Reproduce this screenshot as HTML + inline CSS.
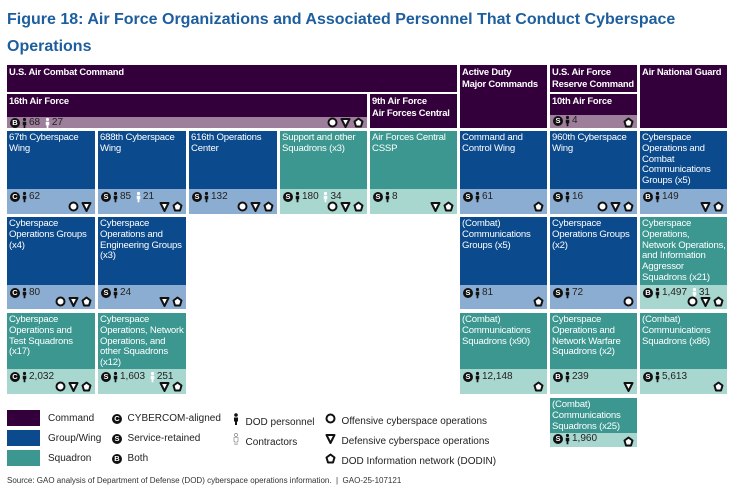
<!DOCTYPE html>
<html><head><meta charset="utf-8">
<style>
body{margin:0;width:737px;height:489px;background:#fff;position:relative;overflow:hidden;font-family:"Liberation Sans",Arial,sans-serif}
.t{position:absolute;left:7px;top:6px;font-size:16px;font-weight:bold;color:#1d5e9e;line-height:27px;width:720px}
.b{position:absolute;box-sizing:border-box;padding:2px 2px;color:#fff;font-size:9.6px;line-height:10.8px;white-space:nowrap;letter-spacing:-0.2px;overflow:hidden}
.hd{font-weight:bold;font-size:9.4px}
.s{position:absolute;left:0;right:0;bottom:0;color:#222;font-size:10px;letter-spacing:0}
.num{position:absolute;left:3px;top:2px;display:flex;align-items:center;gap:1px}
.ops{position:absolute;right:3px;bottom:2px;display:flex;gap:2px}
.bd{display:inline-block;width:10px;height:10px;border-radius:50%;background:#111;color:#fff;font-size:7.5px;font-weight:bold;text-align:center;line-height:10px;letter-spacing:0}
.lg{position:absolute;font-size:10px;color:#222}
.sw{position:absolute;width:33px;height:16px}
</style></head><body>
<div class="t">Figure 18: Air Force Organizations and Associated Personnel That Conduct Cyberspace Operations</div>
<div id="chart"></div>
<div class="sw" style="left:7px;top:410px;background:#33003b"></div>
<div class="sw" style="left:7px;top:430px;background:#0b4a8c"></div>
<div class="sw" style="left:7px;top:450px;background:#3b978f"></div>
<div class="lg" style="left:48px;top:413px">Command</div>
<div class="lg" style="left:48px;top:433px">Group/Wing</div>
<div class="lg" style="left:48px;top:453px">Squadron</div>
<div class="lg" style="left:112px;top:413px"><span class="bd">C</span>&nbsp; CYBERCOM-aligned</div>
<div class="lg" style="left:112px;top:433px"><span class="bd">S</span>&nbsp; Service-retained</div>
<div class="lg" style="left:112px;top:453px"><span class="bd">B</span>&nbsp; Both</div>
<div class="lg" style="left:232px;top:413px"><svg width="8" height="12" viewBox="0 0 8 12"><circle cx="4" cy="2" r="1.8" fill="#111"/><path d="M2 4.5h4v4h-1v3.5h-2v-3.5h-1z" fill="#111"/></svg>&nbsp; DOD personnel</div>
<div class="lg" style="left:232px;top:433px"><svg width="8" height="12" viewBox="0 0 8 12"><circle cx="4" cy="2" r="1.6" fill="#fff" stroke="#777" stroke-width=".6"/><path d="M2 4.5h4v4h-1v3.5h-2v-3.5h-1z" fill="#fff" stroke="#777" stroke-width=".6"/></svg>&nbsp; Contractors</div>
<div class="lg" style="left:325px;top:413px"><svg width="11" height="11"><circle cx="5.5" cy="5.5" r="4" fill="#fff" stroke="#111" stroke-width="2"/></svg>&nbsp; Offensive cyberspace operations</div>
<div class="lg" style="left:325px;top:433px"><svg width="11" height="11"><path d="M1.5 2h8l-4 8z" fill="#fff" stroke="#111" stroke-width="2" stroke-linejoin="round"/></svg>&nbsp; Defensive cyberspace operations</div>
<div class="lg" style="left:325px;top:453px"><svg width="11" height="11"><path d="M5.5 1.5l4 3-1.5 5h-5l-1.5-5z" fill="#fff" stroke="#111" stroke-width="2" stroke-linejoin="round"/></svg>&nbsp; DOD Information network (DODIN)</div>
<div class="lg" style="left:7px;top:476px;font-size:8px;color:#333">Source: GAO analysis of Department of Defense (DOD) cyberspace operations information. &nbsp;|&nbsp; GAO-25-107121</div>
<script>
const COL={P:['#33003b','#9d7e9b'],B:['#0b4a8c','#8cadd2'],T:['#3b978f','#a8d7d0']};
const boxes=[
[7,65,450,27,0,'P','U.S. Air Combat Command',1],
[460,65,87,63,0,'P','Active Duty<br>Major Commands',1],
[550,65,87,27,0,'P','U.S. Air Force<br>Reserve Command',1],
[640,65,87,63,0,'P','Air National Guard',1],
[7,94,360,34,11,'P','16th Air Force',1,'B','68','27','ODP'],
[370,94,87,34,0,'P','9th Air Force<br>Air Forces Central',1],
[550,94,87,34,13,'P','10th Air Force',1,'S','4','','P'],
[7,131,88,83,25,'B','67th Cyberspace<br>Wing',0,'C','62','','OD'],
[98,131,88,83,25,'B','688th Cyberspace<br>Wing',0,'S','85','21','DP'],
[189,131,88,83,25,'B','616th Operations<br>Center',0,'S','132','','ODP'],
[280,131,87,83,25,'T','Support and other<br>Squadrons (x3)',0,'S','180','34','ODP'],
[370,131,87,83,25,'T','Air Forces Central<br>CSSP',0,'S','8','','DP'],
[460,131,87,83,25,'B','Command and<br>Control Wing',0,'S','61','','P'],
[550,131,87,83,25,'B','960th Cyberspace<br>Wing',0,'S','16','','ODP'],
[640,131,87,83,25,'B','Cyberspace<br>Operations and<br>Combat<br>Communications<br>Groups (x5)',0,'B','149','','DP'],
[7,217,88,92,24,'B','Cyberspace<br>Operations Groups<br>(x4)',0,'C','80','','ODP'],
[98,217,88,92,24,'B','Cyberspace<br>Operations and<br>Engineering Groups<br>(x3)',0,'S','24','','DP'],
[460,217,87,92,24,'B','(Combat)<br>Communications<br>Groups (x5)',0,'S','81','','P'],
[550,217,87,92,24,'B','Cyberspace<br>Operations Groups<br>(x2)',0,'S','72','','O'],
[640,217,87,92,24,'T','Cyberspace<br>Operations,<br>Network Operations,<br>and Information<br>Aggressor<br>Squadrons (x21)',0,'B','1,497','31','ODP'],
[7,313,88,81,25,'T','Cyberspace<br>Operations and<br>Test Squadrons<br>(x17)',0,'C','2,032','','ODP'],
[98,313,88,81,25,'T','Cyberspace<br>Operations, Network<br>Operations, and<br>other Squadrons<br>(x12)',0,'S','1,603','251','DP'],
[460,313,87,81,25,'T','(Combat)<br>Communications<br>Squadrons (x90)',0,'S','12,148','','P'],
[550,313,87,81,25,'T','Cyberspace<br>Operations and<br>Network Warfare<br>Squadrons (x2)',0,'B','239','','D'],
[640,313,87,81,25,'T','(Combat)<br>Communications<br>Squadrons (x86)',0,'S','5,613','','P'],
[550,398,87,49,14,'T','(Combat)<br>Communications<br>Squadrons (x25)',0,'S','1,960','','P']
];
const person=(f)=>`<svg width="7" height="12" viewBox="0 0 8 12"><circle cx="4" cy="2" r="1.8" fill="${f}"/><path d="M2 4.5h4v4h-1v3.5h-2v-3.5h-1z" fill="${f}"/></svg>`;
const shp={O:'<circle cx="5.5" cy="5.5" r="4" fill="#fff" stroke="#111" stroke-width="2"/>',D:'<path d="M1.5 2h8l-4 8z" fill="#fff" stroke="#111" stroke-width="2" stroke-linejoin="round"/>',P:'<path d="M5.5 1.5l4 3-1.5 5h-5l-1.5-5z" fill="#fff" stroke="#111" stroke-width="2" stroke-linejoin="round"/>'};
const root=document.getElementById('chart');
boxes.forEach(b=>{
 const [x,y,w,h,sh,c,title,bold,bd,dod,con,ops]=b;
 const d=document.createElement('div');
 d.className='b';
 
 
 d.style.cssText=`left:${x}px;top:${y}px;width:${w}px;height:${h}px;background:${COL[c][0]}`;
 d.innerHTML=`<span class="${bold?'hd':''}">${title}</span>`;
 if(sh){
  const s=document.createElement('div');
  s.className='s';
  
  
  s.style.height=sh+'px';s.style.background=COL[c][1];
  let n=`<div class="num"><span class="bd">${bd}</span>${person('#111')}${dod}`;
  if(con)n+=`&nbsp;${person('#fff')}${con}`;
  n+='</div>';
  let o='<div class="ops">';
  for(const k of ops)o+=`<svg width="11" height="11">${shp[k]}</svg>`;
  o+='</div>';
  s.innerHTML=n+o;
  if(sh<20){s.querySelector('.num').style.top='0px';s.querySelector('.ops').style.bottom='0px';}
  d.appendChild(s);
 }
 root.appendChild(d);
});
</script>
</body></html>
